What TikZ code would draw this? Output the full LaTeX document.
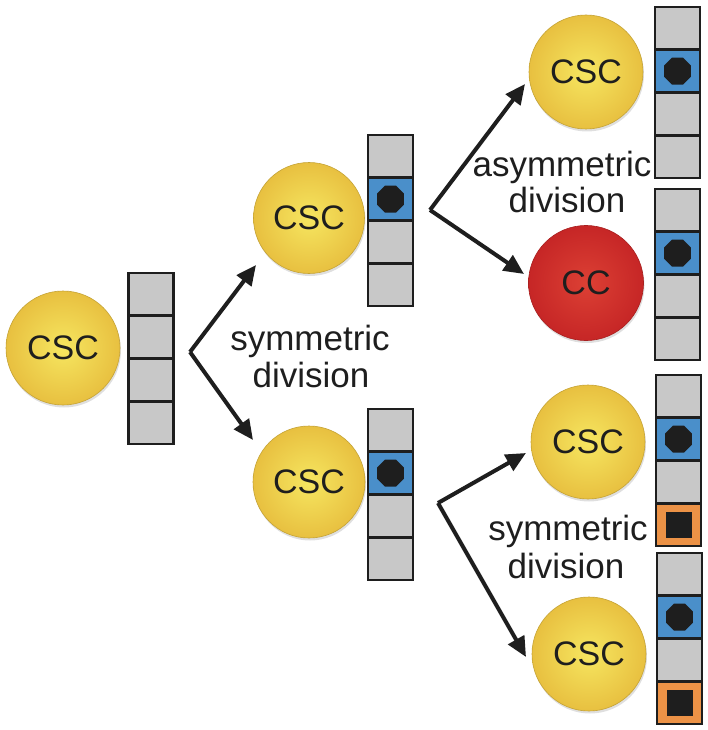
\documentclass[tikz,border=0pt]{standalone}
\usepackage{fontspec}
\setmainfont{Liberation Sans}
\usetikzlibrary{arrows.meta,shapes.geometric,shadows}
\definecolor{ylin}{HTML}{F6E660}
\definecolor{ylout}{HTML}{E8C040}
\definecolor{rdin}{HTML}{DC4034}
\definecolor{rdout}{HTML}{C62626}
\definecolor{cgray}{HTML}{C8C8C8}
\definecolor{cblue}{HTML}{4A8FCA}
\definecolor{corange}{HTML}{EC9246}
\definecolor{ink}{HTML}{1E1E1E}
\newcommand\cellstack[7]{%
  \node[cellbox,fill=#4] (#1-1) at (#2,#3+21.375) {};
  \node[cellbox,fill=#5] (#1-2) at (#2,#3+64.125) {};
  \node[cellbox,fill=#6] (#1-3) at (#2,#3+106.875) {};
  \node[cellbox,fill=#7] (#1-4) at (#2,#3+149.625) {};
}
\begin{document}
\begin{tikzpicture}[x=1pt,y=-1pt,
  cellbox/.style={draw=ink,line width=2.8pt,minimum width=45pt,minimum height=42.75pt,inner sep=0pt,outer sep=0pt},
  cscball/.style={circle,inner sep=0pt,minimum size=#1,shading=radial,inner color=ylin,outer color=ylout,
     draw=ylout!85!black,line width=0.6pt,
     drop shadow={opacity=0.25,shadow xshift=1pt,shadow yshift=-2.5pt},
     font=\fontsize{34}{34}\selectfont,text=ink},
  ccball/.style={circle,inner sep=0pt,minimum size=#1,shading=radial,inner color=rdin,outer color=rdout,
     draw=rdout!85!black,line width=0.6pt,
     drop shadow={opacity=0.25,shadow xshift=1pt,shadow yshift=-2.5pt},
     font=\fontsize{34}{34}\selectfont,text=ink},
  octo/.style={regular polygon,regular polygon sides=8,fill=ink,inner sep=0pt,minimum size=29pt},
  sqr/.style={rectangle,fill=ink,inner sep=0pt,minimum size=26pt},
  lbl/.style={anchor=base,inner sep=0pt,text=ink,font=\fontsize{35}{36}\selectfont},
  arr/.style={draw=ink,line width=4pt,-{Triangle[length=20pt,width=18pt]},line join=miter}
]
\useasboundingbox (0,0) rectangle (707,730);

% cells
\node[cscball=114pt] (c0) at (63,348) {CSC};
\node[cscball=111pt] (c1) at (309,218) {CSC};
\node[cscball=112pt] (c2) at (309,482) {CSC};
\node[cscball=114pt] (c3) at (586,72) {CSC};
\node[ccball=115pt] (c4) at (586,283) {CC};
\node[cscball=114pt] (c5) at (588,442) {CSC};
\node[cscball=114pt] (c6) at (589,654) {CSC};

% stacks
\cellstack{s0}{151}{273}{cgray}{cgray}{cgray}{cgray}
\cellstack{s1}{390.5}{135}{cgray}{cblue}{cgray}{cgray}
\cellstack{s2}{390.5}{409}{cgray}{cblue}{cgray}{cgray}
\cellstack{s3}{677.5}{7}{cgray}{cblue}{cgray}{cgray}
\cellstack{s4}{677.5}{189}{cgray}{cblue}{cgray}{cgray}
\cellstack{s5}{678.5}{375}{cgray}{cblue}{cgray}{corange}
\cellstack{s6}{679.5}{553}{cgray}{cblue}{cgray}{corange}

\node[octo] (o1) at (s1-2) {};
\node[octo] (o2) at (s2-2) {};
\node[octo] (o3) at (s3-2) {};
\node[octo] (o4) at (s4-2) {};
\node[octo] (o5) at (s5-2) {};
\node[octo] (o6) at (s6-2) {};
\node[sqr] (q5) at (s5-4) {};
\node[sqr] (q6) at (s6-4) {};

% arrows
\coordinate (v0) at (190,352);
\coordinate (t0a) at (256,265);
\coordinate (t0b) at (253,440);
\coordinate (v1) at (430,210);
\coordinate (t1a) at (525,84);
\coordinate (t1b) at (524,274);
\coordinate (v2) at (438,503);
\coordinate (t2a) at (526,453);
\coordinate (t2b) at (526,657);
\draw[arr] (v0) -- (t0a);
\draw[arr] (v0) -- (t0b);
\draw[arr] (v1) -- (t1a);
\draw[arr] (v1) -- (t1b);
\draw[arr] (v2) -- (t2a);
\draw[arr] (v2) -- (t2b);

% labels
\node[lbl] (l0a) at (310,350) {symmetric};
\node[lbl] (l0b) at (311,387) {division};
\node[lbl] (l1a) at (562,177) {asymmetric};
\node[lbl] (l1b) at (567,212) {division};
\node[lbl] (l2a) at (568,540) {symmetric};
\node[lbl] (l2b) at (566,578) {division};
\end{tikzpicture}
\end{document}
